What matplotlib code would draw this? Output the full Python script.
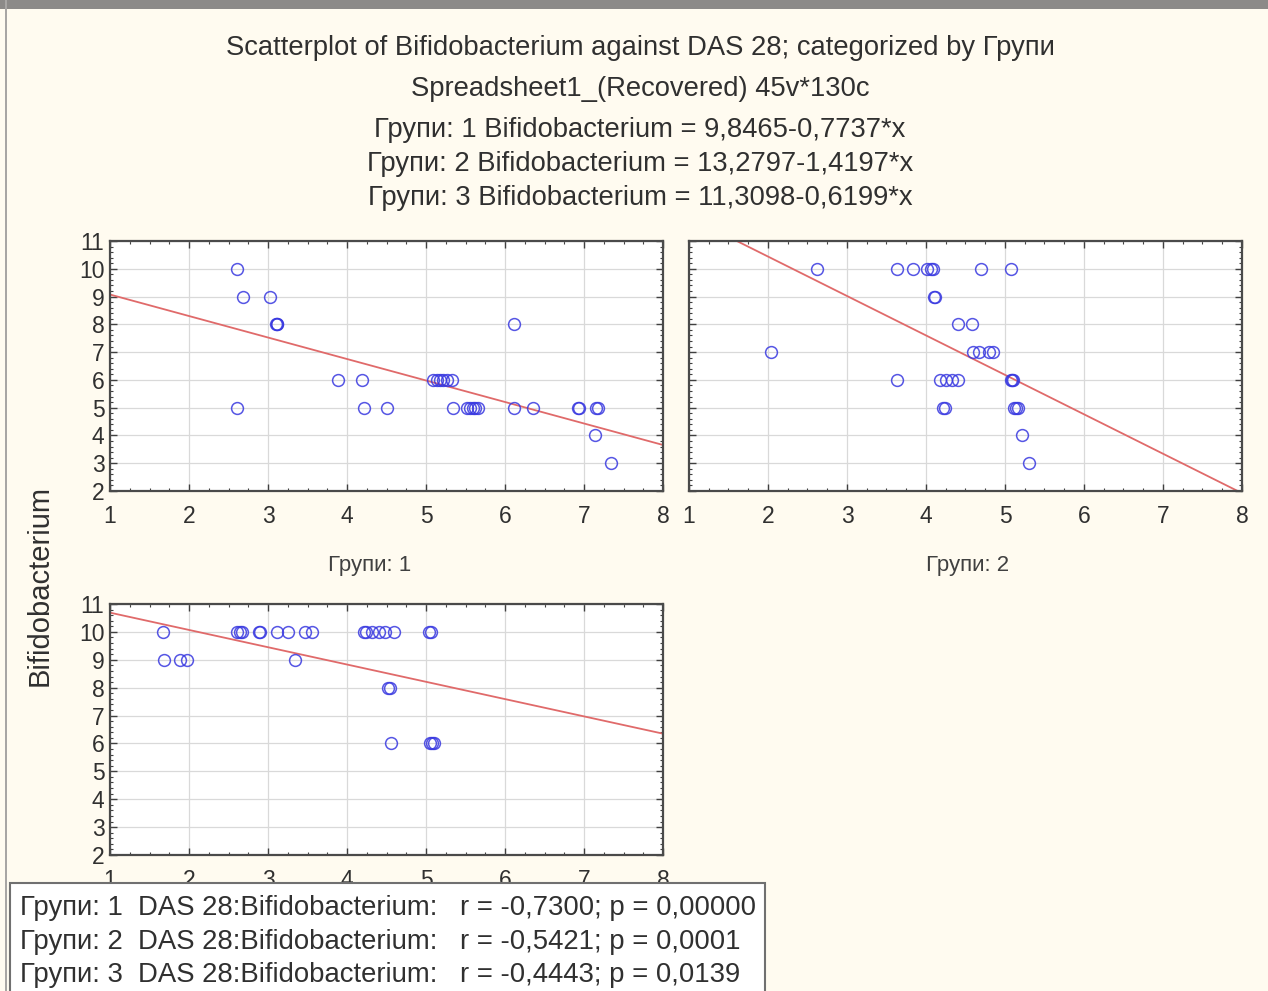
import numpy as np
import matplotlib
matplotlib.use("Agg")
import matplotlib.pyplot as plt
from matplotlib.patches import Rectangle
from matplotlib.ticker import MultipleLocator

plt.rcParams['font.family'] = ['Liberation Sans Narrow', 'Liberation Sans', 'DejaVu Sans']

# DAS 28 (x) and Bifidobacterium (y) per group
das_g1 = [2.61, 2.68, 3.02, 3.10, 3.12, 3.11, 2.61, 3.88, 4.19, 4.21, 4.50,
          5.09, 5.14, 5.18, 5.22, 5.26, 5.33, 5.34, 5.52, 5.56, 5.59, 5.62, 5.66,
          6.11, 6.11, 6.35, 6.92, 6.94, 7.15, 7.18, 7.14, 7.34]
bif_g1 = [10, 9, 9, 8, 8, 8, 5, 6, 6, 5, 5,
          6, 6, 6, 6, 6, 6, 5, 5, 5, 5, 5, 5,
          8, 5, 5, 5, 5, 5, 5, 4, 3]

das_g2 = [2.62, 3.63, 3.84, 4.01, 4.06, 4.09, 4.69, 5.08, 4.10, 4.12,
          4.41, 4.58, 2.04, 4.60, 4.67, 4.80, 4.85, 3.63, 4.18, 4.25, 4.33,
          4.40, 5.07, 5.09, 5.10, 4.22, 4.24, 5.12, 5.14, 5.16, 5.21, 5.30]
bif_g2 = [10, 10, 10, 10, 10, 10, 10, 10, 9, 9,
          8, 8, 7, 7, 7, 7, 7, 6, 6, 6, 6,
          6, 6, 6, 6, 5, 5, 5, 5, 5, 4, 3]

das_g3 = [1.67, 1.68, 1.88, 1.97, 2.61, 2.64, 2.67, 2.88, 2.90, 3.12, 3.25,
          3.47, 3.56, 3.34, 4.22, 4.24, 4.32, 4.41, 4.48, 4.59, 5.04, 5.06,
          4.52, 4.54, 4.56, 5.05, 5.08, 5.10]
bif_g3 = [10, 9, 9, 9, 10, 10, 10, 10, 10, 10, 10,
          10, 10, 9, 10, 10, 10, 10, 10, 10, 10, 10,
          8, 8, 6, 6, 6, 6]

intercepts = [9.8465, 13.2797, 11.3098]
slopes = [-0.7737, -1.4197, -0.6199]
r_values = ["-0,7300", "-0,5421", "-0,4443"]
p_values = ["0,00000", "0,0001", "0,0139"]
group_names = ["Групи: 1", "Групи: 2", "Групи: 3"]

bg = "#fffbf0"
txt_color = "#303030"
fig = plt.figure(figsize=(12.68, 9.91), dpi=100, facecolor=bg)

# window frame: grey bar on top and thin border on the left
fig.patches.append(Rectangle((0, 1 - 9 / 991), 1, 9 / 991, transform=fig.transFigure,
                             facecolor="#8c8a88", edgecolor="none", zorder=5))
fig.patches.append(Rectangle((5 / 1268, 0), 2 / 1268, 1, transform=fig.transFigure,
                             facecolor="#a8a6a4", edgecolor="none", zorder=5))

W, H = 1268, 991
boxes = [(110, 241, 663, 491), (689, 241, 1242, 491), (110, 604, 663, 855)]
groups = [(das_g1, bif_g1), (das_g2, bif_g2), (das_g3, bif_g3)]

for i, ((x0, y0, x1, y1), (xs, ys)) in enumerate(zip(boxes, groups)):
    ax = fig.add_axes([x0 / W, 1 - y1 / H, (x1 - x0) / W, (y1 - y0) / H])
    ax.set_facecolor("white")
    ax.set_xlim(1, 8)
    ax.set_ylim(2, 11)
    ax.xaxis.set_major_locator(MultipleLocator(1))
    ax.xaxis.set_minor_locator(MultipleLocator(0.25))
    ax.yaxis.set_major_locator(MultipleLocator(1))
    ax.yaxis.set_minor_locator(MultipleLocator(0.2))
    ax.grid(True, which="major", color="#d9d9d9", lw=0.9)
    ax.set_axisbelow(True)
    ax.tick_params(which="both", direction="in", top=True, right=True,
                   color="#404040", labelsize=16.5, labelcolor=txt_color)
    ax.tick_params(which="major", length=5, width=1)
    ax.tick_params(which="minor", length=2.5, width=0.8)
    ax.tick_params(axis="x", pad=10)
    ax.tick_params(axis="y", pad=4)
    if i == 1:
        # the right panel shares the row's y scale, so no labels
        ax.tick_params(axis="y", labelleft=False)
    for s in ax.spines.values():
        s.set_color("#4a4a4a")
        s.set_linewidth(1.6)

    ax.plot(xs, ys, linestyle="none", marker="o", markersize=8.5,
            markerfacecolor="none", markeredgecolor="#3838e0", markeredgewidth=1.1,
            alpha=0.85, zorder=3)
    xl = np.array([1.0, 8.0])
    ax.plot(xl, intercepts[i] + slopes[i] * xl, color="#e06a6a", lw=1.3, zorder=2)

# panel captions
fig.text(370 / W, 1 - 566 / H, group_names[0], ha="center", va="center",
         fontsize=16, color="#404040")
fig.text(968 / W, 1 - 566 / H, group_names[1], ha="center", va="center",
         fontsize=16, color="#404040")

fig.text(40 / W, 1 - 585 / H, "Bifidobacterium", rotation=90, ha="center",
         va="center", fontsize=21, color=txt_color)

# header lines
header = [
    "Scatterplot of Bifidobacterium against DAS 28; categorized by Групи",
    "Spreadsheet1_(Recovered) 45v*130c",
]
for g, a, b in zip(range(3), intercepts, slopes):
    header.append(f"Групи: {g + 1} Bifidobacterium = "
                  f"{a:.4f}-{abs(b):.4f}*x".replace(".", ","))
header_y = [48, 89, 130, 164, 198]
for txt, yy in zip(header, header_y):
    fig.text(640 / W, 1 - yy / H, txt, ha="center", va="center",
             fontsize=19.7, color=txt_color)

# correlation summary box
fig.patches.append(Rectangle((10 / W, -0.01), 755 / W, 0.01 + 1 - 883 / H,
                             transform=fig.transFigure, facecolor="white",
                             edgecolor="#707070", lw=1.5, zorder=10))
rows_y = [908, 942, 975]
for name, r, p, yy in zip(group_names, r_values, p_values, rows_y):
    fig.text(20 / W, 1 - yy / H, name, ha="left", va="center",
             fontsize=19.8, color=txt_color, zorder=11)
    fig.text(138 / W, 1 - yy / H, "DAS 28:Bifidobacterium:", ha="left",
             va="center", fontsize=19.8, color=txt_color, zorder=11)
    fig.text(460 / W, 1 - yy / H, f"r = {r}; p = {p}", ha="left",
             va="center", fontsize=19.8, color=txt_color, zorder=11)

fig.savefig("out.png", dpi=100, facecolor=bg)
